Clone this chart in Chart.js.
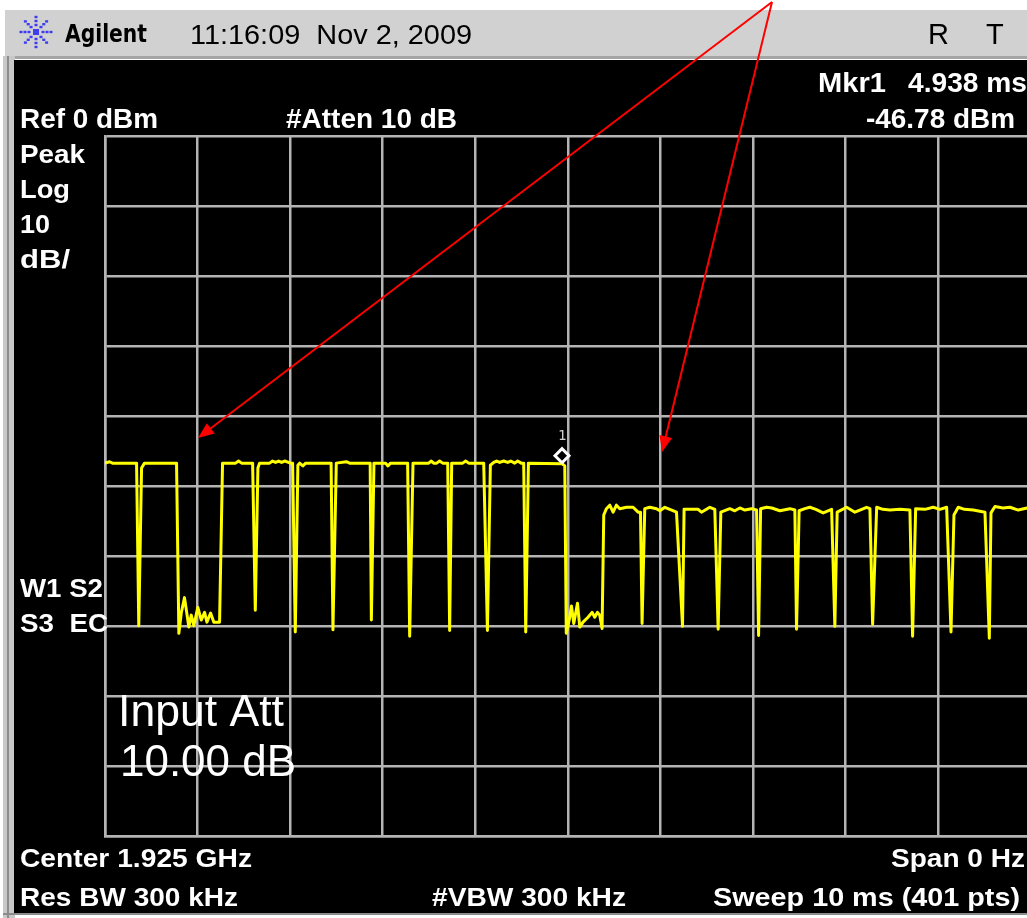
<!DOCTYPE html>
<html>
<head>
<meta charset="utf-8">
<script src="https://cdn.jsdelivr.net/npm/chart.js@4"></script>
<style>
  body { margin: 0; background: #fff; }
  #wrap { width: 1027px; height: 918px; overflow: hidden; }
</style>
</head>
<body>
<div id="wrap"><canvas id="scope" width="1040" height="918"></canvas></div>
<script>
// sweep time (ms) and trace level (dBm), zero span, 10 ms sweep
var sweepMs = [
  0, 0.049, 0.081, 0.341, 0.365, 0.395, 0.427, 0.773, 0.798, 0.824,
  0.859, 0.906, 0.932, 0.960, 1.003, 1.040, 1.076, 1.101, 1.141, 1.176,
  1.238, 1.270, 1.411, 1.443, 1.476, 1.595, 1.624, 1.652, 1.670, 1.778,
  1.811, 1.843, 1.876, 1.908, 1.941, 2.005, 2.027, 2.056, 2.084, 2.103,
  2.138, 2.168, 2.443, 2.463, 2.499, 2.608, 2.643, 2.865, 2.878, 2.906,
  3.032, 3.057, 3.086, 3.270, 3.292, 3.328, 3.497, 3.526, 3.551, 3.584,
  3.616, 3.649, 3.703, 3.724, 3.746, 3.865, 3.897, 3.930, 4.092, 4.132,
  4.164, 4.200, 4.232, 4.265, 4.308, 4.351, 4.384, 4.427, 4.459, 4.497,
  4.524, 4.546, 4.575, 4.938, 4.968, 4.984, 5.016, 5.040, 5.065, 5.105,
  5.130, 5.165, 5.219, 5.263, 5.292, 5.321, 5.346, 5.371, 5.389, 5.418,
  5.454, 5.490, 5.526, 5.562, 5.635, 5.706, 5.760, 5.786, 5.803, 5.832,
  5.886, 5.959, 5.995, 6.049, 6.103, 6.175, 6.240, 6.257, 6.409, 6.445,
  6.535, 6.589, 6.625, 6.654, 6.751, 6.805, 6.859, 6.914, 6.986, 7.040,
  7.062, 7.084, 7.148, 7.205, 7.292, 7.400, 7.454, 7.472, 7.500, 7.562,
  7.616, 7.681, 7.760, 7.851, 7.886, 7.911, 8.013, 8.103, 8.229, 8.265,
  8.294, 8.338, 8.405, 8.481, 8.589, 8.697, 8.726, 8.759, 8.859, 8.949,
  9.022, 9.094, 9.141, 9.173, 9.219, 9.286, 9.382, 9.508, 9.555, 9.573,
  9.616, 9.703, 9.778, 9.868, 9.962, 10.0
];
var levelDbm = [
  -46.7, -46.5, -46.7, -46.7, -69.9, -47.4, -46.7, -46.7, -71.0, -68.1,
  -65.9, -70.1, -68.4, -69.9, -67.3, -69.1, -68.0, -69.4, -68.1, -69.4,
  -69.4, -46.7, -46.7, -46.4, -46.7, -46.7, -67.7, -47.4, -46.7, -46.7,
  -46.4, -46.6, -46.4, -46.6, -46.4, -46.7, -46.7, -70.8, -47.0, -46.7,
  -47.1, -46.7, -46.7, -70.5, -46.7, -46.5, -46.7, -46.7, -69.1, -46.7,
  -46.7, -47.1, -46.7, -46.7, -71.4, -46.7, -46.7, -46.4, -46.7, -46.7,
  -46.4, -46.7, -46.7, -70.6, -46.7, -46.7, -46.4, -46.7, -46.7, -70.6,
  -47.0, -46.6, -46.4, -46.6, -46.4, -46.6, -46.4, -46.7, -46.4, -46.7,
  -46.7, -70.8, -46.7, -46.78, -47.1, -71.0, -69.1, -67.1, -69.6, -66.7,
  -70.1, -69.4, -68.7, -68.0, -68.7, -68.0, -68.4, -70.3, -54.1, -53.2,
  -52.7, -53.7, -52.7, -53.2, -53.0, -53.0, -53.7, -53.7, -69.6, -53.2,
  -53.0, -53.2, -53.5, -53.0, -53.3, -53.7, -70.0, -53.3, -53.3, -53.7,
  -53.0, -53.3, -70.4, -53.7, -53.2, -53.5, -53.1, -53.4, -53.2, -53.4,
  -71.3, -53.2, -53.0, -53.1, -53.5, -53.2, -53.4, -70.4, -53.5, -53.2,
  -53.0, -53.3, -53.8, -53.3, -70.0, -53.7, -53.0, -53.7, -53.0, -53.2,
  -69.7, -53.0, -53.3, -53.4, -53.3, -53.4, -71.4, -53.2, -53.3, -53.0,
  -53.3, -53.0, -70.8, -54.1, -53.0, -53.3, -53.4, -53.7, -71.7, -53.8,
  -52.9, -53.1, -53.0, -53.4, -53.1, -53.3
];
var refLevel = 0;       // dBm, top graticule
var dbPerDiv = 10;
var sweepTime = 10;     // ms
var mkrTime = 4.938;
var mkrLevel = -46.78;

var trace = [];
for (var i = 0; i < sweepMs.length; i++) {
  trace.push({ x: sweepMs[i], y: levelDbm[i] });
}

var gridGray = '#b4b4b4';

// text squeezed to a given width, like the analyzer's narrow font
function txt(ctx, s, x, y, font, color, width, align) {
  ctx.save();
  ctx.font = font;
  ctx.fillStyle = color;
  ctx.textBaseline = 'alphabetic';
  var w = ctx.measureText(s).width;
  var k = width ? width / w : 1;
  var left = align === 'right' ? x - w * k : x;
  ctx.translate(left, y);
  ctx.scale(k, 1);
  ctx.fillText(s, 0, 0);
  ctx.restore();
}

function arrow(ctx, x0, y0, x1, y1) {
  var a = Math.atan2(y1 - y0, x1 - x0);
  var len = 16, half = 6.5;
  ctx.save();
  ctx.strokeStyle = '#ff0000';
  ctx.fillStyle = '#ff0000';
  ctx.lineWidth = 2;
  ctx.beginPath();
  ctx.moveTo(x0, y0);
  ctx.lineTo(x1 - Math.cos(a) * len * 0.8, y1 - Math.sin(a) * len * 0.8);
  ctx.stroke();
  ctx.beginPath();
  ctx.moveTo(x1, y1);
  ctx.lineTo(x1 - Math.cos(a) * len - Math.sin(a) * half, y1 - Math.sin(a) * len + Math.cos(a) * half);
  ctx.lineTo(x1 - Math.cos(a) * len + Math.sin(a) * half, y1 - Math.sin(a) * len - Math.cos(a) * half);
  ctx.closePath();
  ctx.fill();
  ctx.restore();
}

function logo(ctx, cx, cy) {
  ctx.save();
  ctx.fillStyle = '#3c3cf0';
  ctx.fillRect(cx - 3, cy - 3, 6, 6);
  for (var k = 0; k < 8; k++) {
    var a = k * Math.PI / 4;
    var dists = [7, 11, 15];
    for (var j = 0; j < dists.length; j++) {
      var px = cx + Math.cos(a) * dists[j];
      var py = cy + Math.sin(a) * dists[j];
      ctx.fillRect(px - 1.5, py - 1.2, 3, 2.4);
    }
  }
  ctx.restore();
}

var screenPlugin = {
  id: 'screen',
  beforeDraw: function (chart) {
    var ctx = chart.ctx;
    ctx.save();
    ctx.fillStyle = '#ffffff';
    ctx.fillRect(0, 0, chart.width, chart.height);
    // title bar
    ctx.fillStyle = '#d1d1d1';
    ctx.fillRect(5, 10, chart.width, 48);
    ctx.fillStyle = '#a4a4a4';
    ctx.fillRect(5, 56, chart.width, 3);
    // left bezel
    ctx.fillStyle = '#c8c8c8';
    ctx.fillRect(3, 56, 12, 862);
    ctx.fillStyle = '#8c8c8c';
    ctx.fillRect(7, 56, 2, 862);
    ctx.fillRect(3, 913, chart.width, 2);
    // screen
    ctx.fillStyle = '#000000';
    ctx.fillRect(14, 60, chart.width, 853);
    ctx.restore();
  },
  afterDraw: function (chart) {
    var ctx = chart.ctx;
    var xs = chart.scales.x, ys = chart.scales.y;
    var bold = 'bold 28px "Liberation Sans", Arial, sans-serif';
    var boldSm = 'bold 26px "Liberation Sans", Arial, sans-serif';
    var plain = '28px "Liberation Sans", Arial, sans-serif';

    logo(ctx, 36, 32);
    txt(ctx, 'Agilent', 65, 42, 'bold 25px "DejaVu Sans", sans-serif', '#000', 82);
    txt(ctx, '11:16:09  Nov 2, 2009', 190, 44, plain, '#000', 282);
    txt(ctx, 'R', 928, 44, '29px "Liberation Sans", Arial, sans-serif', '#000');
    txt(ctx, 'T', 986, 44, '29px "Liberation Sans", Arial, sans-serif', '#000');

    txt(ctx, 'Mkr1', 818, 92, bold, '#fff', 68);
    txt(ctx, mkrTime.toFixed(3) + ' ms', 908, 92, bold, '#fff', 119);
    txt(ctx, 'Ref ' + refLevel + ' dBm', 20, 128, bold, '#fff', 138);
    txt(ctx, '#Atten 10 dB', 286, 128, bold, '#fff', 171);
    txt(ctx, mkrLevel.toFixed(2) + ' dBm', 1015, 128, bold, '#fff', 149, 'right');

    txt(ctx, 'Peak', 20, 163, boldSm, '#fff', 65);
    txt(ctx, 'Log', 20, 198, boldSm, '#fff', 50);
    txt(ctx, String(dbPerDiv), 20, 233, boldSm, '#fff', 30);
    txt(ctx, 'dB/', 20, 268, boldSm, '#fff', 50);
    txt(ctx, 'W1 S2', 20, 597, boldSm, '#fff', 83);
    txt(ctx, 'S3  EC', 20, 632, boldSm, '#fff', 88);

    txt(ctx, 'Input Att', 118, 726, '44px "Liberation Sans", Arial, sans-serif', '#fff', 166);
    txt(ctx, '10.00 dB', 120, 776, '44px "Liberation Sans", Arial, sans-serif', '#fff', 176);

    txt(ctx, 'Center 1.925 GHz', 20, 867, boldSm, '#fff', 232);
    txt(ctx, 'Span 0 Hz', 1025, 867, boldSm, '#fff', 134, 'right');
    txt(ctx, 'Res BW 300 kHz', 20, 906, boldSm, '#fff', 218);
    txt(ctx, '#VBW 300 kHz', 432, 906, boldSm, '#fff', 194);
    txt(ctx, 'Sweep ' + sweepTime + ' ms (401 pts)', 1020, 906, boldSm, '#fff', 307, 'right');

    // marker 1: diamond sits on the trace
    var mx = xs.getPixelForValue(mkrTime);
    var my = ys.getPixelForValue(mkrLevel);
    ctx.save();
    ctx.strokeStyle = '#ffffff';
    ctx.lineWidth = 3;
    ctx.beginPath();
    ctx.moveTo(mx, my - 1);
    ctx.lineTo(mx + 7, my - 8);
    ctx.lineTo(mx, my - 15);
    ctx.lineTo(mx - 7, my - 8);
    ctx.closePath();
    ctx.stroke();
    ctx.restore();
    txt(ctx, '1', mx - 4, my - 24, '14px "DejaVu Sans Mono", monospace', '#d0d0d0');

    arrow(ctx, 772, 2, 198, 438);
    arrow(ctx, 772, 2, 662, 452);
  }
};

var scope = new Chart('scope', {
  type: 'line',
  data: {
    datasets: [{
      data: trace,
      borderColor: '#ffff00',
      borderWidth: 3,
      borderJoinStyle: 'round',
      pointRadius: 0,
      tension: 0,
      fill: false
    }]
  },
  options: {
    responsive: false,
    animation: false,
    events: [],
    layout: { padding: { left: 105, top: 136, right: 9.5, bottom: 81.5 } },
    plugins: { legend: { display: false }, tooltip: { enabled: false } },
    scales: {
      x: {
        type: 'linear',
        min: 0,
        max: sweepTime,
        ticks: { display: false, stepSize: 1 },
        grid: { color: gridGray, lineWidth: 2.5, drawTicks: false },
        border: { color: gridGray, width: 2.5 }
      },
      y: {
        min: refLevel - 10 * dbPerDiv,
        max: refLevel,
        ticks: { display: false, stepSize: dbPerDiv },
        grid: { color: gridGray, lineWidth: 2.5, drawTicks: false },
        border: { color: gridGray, width: 2.5 }
      }
    }
  },
  plugins: [screenPlugin]
});
</script>
</body>
</html>
